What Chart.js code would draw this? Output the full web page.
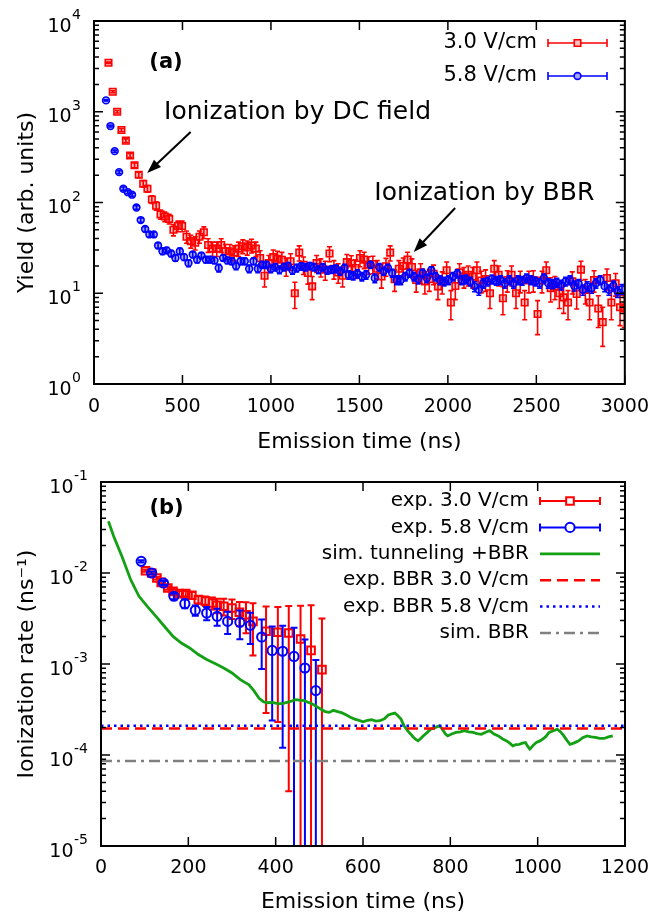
<!DOCTYPE html>
<html>
<head>
<meta charset="utf-8">
<script src="https://cdn.jsdelivr.net/npm/chart.js@4.4.0/dist/chart.umd.min.js"></script>
<style>
  body { margin: 0; background: #fff; }
  #wrap { position: relative; width: 661px; height: 915px; }
  canvas { position: absolute; left: 0; }
</style>
</head>
<body>
<div id="wrap">
  <canvas id="chartA" width="661" height="458" style="top:0"></canvas>
  <canvas id="chartB" width="661" height="458" style="top:457px"></canvas>
</div>
<script>
// ---- Panel (a): yield vs emission time ----
const redTimesA = [82,106,131,155,180,204,229,253,278,302,327,351,376,400,425,449,474,498,523,547,
  572,596,621,645,670,694,719,743,768,792,817,841,866,890,915,939,964,988,1013,1037,
  1062,1086,1111,1135,1160,1184,1209,1233,1258,1282,1307,1331,1356,1380,1405,1429,1454,1478,1503,1527,
  1552,1576,1601,1625,1650,1674,1699,1723,1748,1772,1797,1821,1846,1870,1895,1919,1944,1968,1993,2017,
  2042,2066,2091,2115,2140,2164,2189,2213,2238,2262,2287,2311,2336,2360,2385,2409,2434,2458,2483,2507,
  2532,2556,2581,2605,2630,2654,2679,2703,2728,2752,2777,2801,2826,2850,2875,2899,2924,2948,2973,2997];
const redYieldA = [3470,1660,1000,630,480,330,257,202,161,142,108,
  92,74,70,66,50,55,55,42,37.5,36,
  42,47,34,31,31,34,29,29,28,31,
  33,32,33.6,31,24.5,15.6,21.5,25,24,23.4,
  19.8,22.5,10,28,20.6,16.7,11.9,21.5,19.5,18.2,
  27.4,18.6,17,15.6,22,21.3,19,24.5,23.5,20.7,
  21,18.6,15.3,19.8,28,14.3,18.6,20,23.5,19.5,
  14,17,13.5,14.3,16.4,11.9,13.5,17.9,7.9,12,
  17,15.3,16,15.3,17.9,13.8,14.3,10,18.6,16,
  8.8,14,16,10,13.8,7.9,13.8,14,5.9,13.8,
  17.9,11.4,11.9,10,9,7.9,13.5,9.8,18.2,10.9,
  7.9,14,6.8,4.8,14.7,7.9,12.9,7,6.8];
const redErrA = [59,41,32,25,22,18,16,14,13,12,10.4,
  9.6,8.6,8.4,8.1,7.1,7.4,7.4,6.5,6.1,6,
  6.5,6.9,5.8,5.6,5.6,5.8,5.4,5.4,5.3,5.6,
  5.7,5.7,5.8,5.6,4.9,3.9,4.6,5,4.9,4.8,
  4.4,4.7,3.2,5.3,4.5,4.1,3.4,4.6,4.4,4.3,
  5.2,4.3,4.1,3.9,4.7,4.6,4.4,4.9,4.8,4.5,
  4.6,4.3,3.9,4.4,5.3,3.8,4.3,4.5,4.8,4.4,
  3.7,4.1,3.7,3.8,4,3.4,3.7,4.2,2.8,3.5,
  4.1,3.9,4,3.9,4.2,3.7,3.8,3.2,4.3,4,
  3,3.7,4,3.2,3.7,2.8,3.7,3.7,2.4,3.7,
  4.2,3.4,3.4,3.2,3,2.8,3.7,3.1,4.3,3.3,
  2.8,3.7,2.6,2.2,3.8,2.8,3.6,2.6,2.6];

const blueTimesA = [68,93,117,142,166,191,215,240,264,289,313,338,362,387,411,436,460,485,509,534,
  558,583,607,632,656,681,705,730,754,779,803,828,852,877,901,926,950,975,999,1024,
  1048,1073,1097,1122,1146,1171,1195,1220,1244,1269,1293,1318,1342,1367,1391,1416,1440,1465,1489,1514,
  1538,1563,1587,1612,1636,1661,1685,1710,1734,1759,1783,1808,1832,1857,1881,1906,1930,1955,1979,2004,
  2028,2053,2077,2102,2126,2151,2175,2200,2224,2249,2273,2298,2322,2347,2371,2396,2420,2445,2469,2494,
  2518,2543,2567,2592,2616,2641,2665,2690,2714,2739,2763,2788,2812,2837,2861,2886,2910,2935,2959,2984];
const blueYieldA = [1334,695,368,216,142,130,122,88,64,51,
  44.5,44.5,33.6,29,29.7,27.4,24.5,29,25,21.5,
  26.7,23.5,26,23.5,23.5,23,19,24.5,23,22.5,
  20,22.5,22.5,18.6,22.5,18.6,20.6,20.6,18.6,19.4,
  18.2,19.4,20,17.9,19,19.8,19.4,20,19.4,18.2,
  19.4,17.9,18.2,18.6,17.5,19,16,15.6,16.4,15.3,
  16,20.6,14.7,19.4,17.5,19,16.7,14,14,15.3,
  16.7,15.3,14.3,16.7,14.7,17.9,15.3,14,13.5,14,
  15.3,16.4,14,14.3,13.5,11.9,10.9,12.9,13.5,14.3,
  13.8,14,12.9,14,12.9,14,13.8,14.7,14,13.5,
  12.9,14.7,12.9,12.7,13.1,12.4,13.5,14,12.1,12.7,
  10.9,11.9,11.4,12.9,14,11.9,10.9,12.1,10.4,11.1];
const blueErrA = [22,15,10,8,6,5,5,4,3.5,3,
  2.8,2.8,2.4,2.2,2.2,2.1,2,2.2,2,1.9,
  2,1.9,2,1.9,1.9,1.9,1.8,1.9,1.9,1.9,
  1.8,1.9,1.9,1.8,1.9,1.8,1.8,1.8,1.8,1.8,
  1.8,1.8,1.8,1.7,1.8,1.8,1.8,1.8,1.8,1.8,
  1.8,1.7,1.7,1.8,1.7,1.8,1.7,1.6,1.7,1.6,
  1.7,1.8,1.6,1.8,1.7,1.8,1.7,1.6,1.6,1.6,
  1.7,1.6,1.6,1.7,1.6,1.7,1.6,1.6,1.5,1.6,
  1.6,1.7,1.6,1.6,1.5,1.5,1.4,1.5,1.5,1.6,
  1.5,1.6,1.5,1.6,1.5,1.6,1.5,1.6,1.6,1.5,
  1.5,1.6,1.5,1.5,1.5,1.5,1.5,1.6,1.5,1.5,
  1.4,1.5,1.4,1.5,1.6,1.5,1.4,1.5,1.4,1.4];

// ---- Panel (b): ionization rate vs emission time ----
const redTimesB = [102,116,128,138,153,165,179,194,208,223,239,255,266,281,300,317,332,348,378,405,430,457,481,506];
const redRateB = [0.0106,0.0100,0.00881,0.00789,0.00684,0.00629,0.00593,0.00593,0.00569,0.00510,0.00493,0.00468,
  0.00441,0.00431,0.00412,0.00370,0.00348,0.00294,0.00229,0.00223,0.00219,0.00188,0.00141,0.000867];
const redErrB = [0.0003,0.0003,0.0003,0.0003,0.0003,0.0004,0.0004,0.0004,0.0005,0.0005,0.0006,0.0007,
  0.0008,0.0009,0.0010,0.0011,0.0013,0.0017,0.0020,0.0020,0.00215,0.0025,0.0030,0.0023];

const blueTimesB = [92,116,143,167,192,216,242,266,290,318,342,368,392,416,442,467,492];
const blueRateB = [0.01343,0.0100,0.00776,0.00555,0.00460,0.00389,0.00363,0.00334,0.00294,0.00287,0.00266,
  0.00198,0.00141,0.00138,0.00121,0.000904,0.00051];
const blueErrB = [0.0004,0.0004,0.0004,0.0004,0.0005,0.0005,0.0006,0.0007,0.0008,0.0010,0.0010,
  0.0011,0.00117,0.00126,0.0013,0.00095,0.0006];

const simTimes = [17,29,48,68,87,106,126,145,165,184,203,223,242,261,281,300,319,339,350,362,372,380,392,407,417,426,436,445,455,465,
  474,484,494,503,513,523,532,542,552,562,571,581,591,600,610,620,629,639,649,658,666,673,680,687,694,702,709,716,721,726,
  731,736,746,755,765,774,779,784,789,794,803,813,823,832,842,852,861,871,881,890,900,910,920,929,936,943,950,958,965,972,
  977,982,990,997,1004,1011,1019,1026,1036,1045,1053,1060,1067,1074,1084,1094,1103,1113,1123,1132,1142,1152,1162,1172];
const simRate = [0.037,0.0253,0.0152,0.00845,0.00555,0.0043,0.00334,0.0026,0.00201,0.0017,0.0015,0.00127,0.00112,0.00101,0.000904,
  0.000796,0.000673,0.00059,0.00051,0.00042,0.000385,0.000375,0.000379,0.000364,0.00037,0.000379,0.00039,0.000406,0.0004,0.000396,
  0.00038,0.000364,0.00034,0.00032,0.0003,0.000294,0.00031,0.0003,0.00029,0.000275,0.00026,0.000248,0.00024,0.000232,0.00024,
  0.000244,0.000236,0.000238,0.00025,0.000275,0.000283,0.000289,0.00027,0.000248,0.00021,0.000185,0.00017,0.000156,0.000148,0.000143,
  0.00015,0.000159,0.000175,0.000192,0.0002,0.000209,0.0002,0.000185,0.00017,0.000162,0.00017,0.000177,0.00018,0.000185,0.00018,
  0.000177,0.000172,0.000169,0.000178,0.000185,0.00017,0.000162,0.00015,0.000143,0.000135,0.000126,0.00013,0.000131,0.000135,0.000137,
  0.000125,0.000116,0.000128,0.000137,0.000142,0.000149,0.00016,0.000177,0.000185,0.000192,0.000178,0.000162,0.000145,0.000131,0.000136,
  0.000143,0.000155,0.000162,0.000158,0.000156,0.000152,0.000152,0.000158,0.000162];

const bbrExp30 = 1.96e-4;
const bbrExp58 = 2.09e-4;
const bbrSim = 8.6e-5;
const rangeB = [0, 1200];

Chart.defaults.font.family = '"DejaVu Sans", Verdana, sans-serif';
Chart.defaults.color = '#000';

const toPoints = (xs, ys) => xs.map((x, i) => ({ x: x, y: ys[i] }));
const plainTick = v => String(v);

// Error bars, drawn just before the points of their dataset
const errorBars = {
  id: 'errorBars',
  beforeDatasetDraw(chart, args) {
    const ds = chart.data.datasets[args.index];
    if (!ds.errors) return;
    const { ctx, chartArea: a, scales: { x, y } } = chart;
    const cap = ds.capHalf || 3;
    ctx.save();
    ctx.beginPath();
    ctx.rect(a.left, a.top, a.width, a.height);
    ctx.clip();
    ctx.strokeStyle = ds.borderColor;
    ctx.lineWidth = ds.errWidth || 1.5;
    ds.data.forEach((p, i) => {
      const e = ds.errors[i];
      const px = x.getPixelForValue(p.x);
      const top = y.getPixelForValue(p.y + e);
      const lo = p.y - e;
      const bot = lo > 0 ? y.getPixelForValue(lo) : a.bottom + 5;
      ctx.beginPath();
      ctx.moveTo(px, top); ctx.lineTo(px, bot);
      ctx.moveTo(px - cap, top); ctx.lineTo(px + cap, top);
      if (lo > 0) { ctx.moveTo(px - cap, bot); ctx.lineTo(px + cap, bot); }
      ctx.stroke();
    });
    ctx.restore();
  }
};

// gnuplot-like frame: full border, inward mirrored ticks, 10^n labels
const frame = {
  id: 'frame',
  afterDatasetsDraw(chart, args, opts) {
    const { ctx, chartArea: a, scales: { x, y } } = chart;
    ctx.save();
    ctx.strokeStyle = '#000';
    ctx.lineWidth = 1.5;
    ctx.beginPath();
    x.ticks.forEach(t => {
      const px = x.getPixelForValue(t.value);
      ctx.moveTo(px, a.bottom); ctx.lineTo(px, a.bottom - 9);
      ctx.moveTo(px, a.top); ctx.lineTo(px, a.top + 9);
    });
    for (let e = opts.minExp; e <= opts.maxExp; e++) {
      for (let m = 1; m < 10; m++) {
        if (e === opts.maxExp && m > 1) break;
        const py = y.getPixelForValue(m * Math.pow(10, e));
        const len = m === 1 ? 9 : 5;
        ctx.moveTo(a.left, py); ctx.lineTo(a.left + len, py);
        ctx.moveTo(a.right, py); ctx.lineTo(a.right - len, py);
      }
    }
    ctx.stroke();
    ctx.lineWidth = 2;
    ctx.strokeRect(a.left, a.top, a.right - a.left, a.bottom - a.top);

    ctx.fillStyle = '#000';
    ctx.textAlign = 'right';
    ctx.textBaseline = 'alphabetic';
    for (let e = opts.minExp; e <= opts.maxExp; e++) {
      const py = y.getPixelForValue(Math.pow(10, e));
      const exp = String(e);
      ctx.font = '14px "DejaVu Sans"';
      const ew = ctx.measureText(exp).width;
      ctx.fillText(exp, a.left - 13, py - 2);
      ctx.font = '19px "DejaVu Sans"';
      ctx.fillText('10', a.left - 13 - ew - 0.5, py + 10.5);
    }
    ctx.restore();
  }
};

// gnuplot-like key: right-aligned text and a sample to its right
const gpLegend = {
  id: 'gpLegend',
  afterDraw(chart, args, opts) {
    const { ctx } = chart;
    ctx.save();
    chart.data.datasets.forEach((ds, i) => {
      const yy = opts.rowTop + i * opts.rowStep;
      const cx = (opts.sampleLeft + opts.sampleRight) / 2;
      ctx.font = opts.font;
      ctx.fillStyle = '#000';
      ctx.textAlign = 'right';
      ctx.textBaseline = 'middle';
      ctx.fillText(ds.label, opts.textRight, yy);
      ctx.strokeStyle = ds.borderColor;
      ctx.lineWidth = ds.showLine ? ds.borderWidth : (ds.errWidth || 1.5);
      ctx.setLineDash(ds.borderDash || []);
      ctx.beginPath();
      ctx.moveTo(opts.sampleLeft, yy); ctx.lineTo(opts.sampleRight, yy);
      ctx.stroke();
      ctx.setLineDash([]);
      if (ds.errors) {
        ctx.beginPath();
        ctx.moveTo(opts.sampleLeft, yy - 4); ctx.lineTo(opts.sampleLeft, yy + 4);
        ctx.moveTo(opts.sampleRight, yy - 4); ctx.lineTo(opts.sampleRight, yy + 4);
        ctx.stroke();
        ctx.lineWidth = ds.pointBorderWidth;
        ctx.beginPath();
        if (ds.pointStyle === 'rect') {
          const s = Math.SQRT1_2 * ds.pointRadius;
          ctx.rect(cx - s, yy - s, 2 * s, 2 * s);
        } else {
          ctx.arc(cx, yy, ds.pointRadius, 0, Math.PI * 2);
        }
        ctx.fillStyle = '#fff';
        ctx.fill();
        ctx.fillStyle = ds.pointBackgroundColor;
        ctx.fill();
        ctx.stroke();
      }
    });
    ctx.restore();
  }
};

// text labels and arrows placed in data coordinates
const notes = {
  id: 'notes',
  afterDraw(chart, args, opts) {
    const { ctx, scales: { x, y } } = chart;
    ctx.save();
    ctx.fillStyle = '#000';
    (opts.texts || []).forEach(t => {
      ctx.font = t.font;
      ctx.textAlign = t.align;
      ctx.textBaseline = 'middle';
      ctx.fillText(t.text, x.getPixelForValue(t.x), y.getPixelForValue(t.y));
    });
    (opts.arrows || []).forEach(ar => {
      const x0 = x.getPixelForValue(ar.x0), y0 = y.getPixelForValue(ar.y0);
      const x1 = x.getPixelForValue(ar.x1), y1 = y.getPixelForValue(ar.y1);
      const ang = Math.atan2(y1 - y0, x1 - x0);
      const hl = 15, hw = 0.35;
      ctx.strokeStyle = '#000';
      ctx.lineWidth = 2;
      ctx.beginPath();
      ctx.moveTo(x0, y0);
      ctx.lineTo(x1 - Math.cos(ang) * hl * 0.8, y1 - Math.sin(ang) * hl * 0.8);
      ctx.stroke();
      ctx.beginPath();
      ctx.moveTo(x1, y1);
      ctx.lineTo(x1 - hl * Math.cos(ang - hw), y1 - hl * Math.sin(ang - hw));
      ctx.lineTo(x1 - hl * Math.cos(ang + hw), y1 - hl * Math.sin(ang + hw));
      ctx.closePath();
      ctx.fill();
    });
    ctx.restore();
  }
};

// Panel (a)
new Chart(document.getElementById('chartA'), {
  type: 'scatter',
  data: {
    datasets: [
      {
        label: '3.0 V/cm',
        data: toPoints(redTimesA, redYieldA),
        errors: redErrA,
        capHalf: 2.5,
        errWidth: 1.6,
        borderColor: '#ff0000',
        pointStyle: 'rect',
        pointRadius: 4.6,
        pointBorderWidth: 1.6,
        pointBackgroundColor: 'rgba(255,0,0,0.25)',
        order: 1
      },
      {
        label: '5.8 V/cm',
        data: toPoints(blueTimesA, blueYieldA),
        errors: blueErrA,
        capHalf: 2.5,
        errWidth: 1.6,
        borderColor: '#0000ff',
        pointStyle: 'circle',
        pointRadius: 3.4,
        pointBorderWidth: 1.6,
        pointBackgroundColor: 'rgba(0,0,255,0.35)',
        order: 0
      }
    ]
  },
  options: {
    responsive: false,
    animation: false,
    devicePixelRatio: 1,
    layout: { padding: { left: 0, right: 29, top: 21, bottom: 0 } },
    plugins: {
      legend: { display: false },
      tooltip: { enabled: false },
      frame: { minExp: 0, maxExp: 4 },
      gpLegend: { rowTop: 43, rowStep: 33, textRight: 537, sampleLeft: 548, sampleRight: 607, font: '21px "DejaVu Sans"' },
      notes: {
        texts: [
          { text: '(a)', x: 407, y: 3450, font: 'bold 21px "DejaVu Sans"', align: 'center' },
          { text: 'Ionization by DC field', x: 396, y: 969, font: '25px "DejaVu Sans"', align: 'left' },
          { text: 'Ionization by BBR', x: 1584, y: 127, font: '25px "DejaVu Sans"', align: 'left' }
        ],
        arrows: [
          { x0: 546, y0: 598, x1: 301, y1: 211 },
          { x0: 2041, y0: 87, x1: 1807, y1: 28.5 }
        ]
      }
    },
    scales: {
      x: {
        type: 'linear', min: 0, max: 3000,
        ticks: { stepSize: 500, maxRotation: 0, padding: 12, font: { size: 19 }, callback: plainTick },
        grid: { display: false, drawTicks: false },
        border: { display: false },
        title: { display: true, text: 'Emission time (ns)', font: { size: 22, lineHeight: 1 }, padding: { top: 0, bottom: 5 } },
        afterFit(scale) { scale.height = 74; }
      },
      y: {
        type: 'logarithmic', min: 1, max: 10000,
        ticks: { display: false },
        grid: { display: false, drawTicks: false },
        border: { display: false },
        title: { display: true, text: 'Yield (arb. units)', font: { size: 22, lineHeight: 1 }, padding: { top: 16, bottom: 0 } },
        afterFit(scale) { scale.width = 94; }
      }
    }
  },
  plugins: [errorBars, frame, gpLegend, notes]
});

// Panel (b)
const hLine = v => rangeB.map(t => ({ x: t, y: v }));
new Chart(document.getElementById('chartB'), {
  type: 'scatter',
  data: {
    datasets: [
      {
        label: 'exp. 3.0 V/cm',
        data: toPoints(redTimesB, redRateB),
        errors: redErrB,
        capHalf: 3.5,
        errWidth: 2,
        borderColor: '#ff0000',
        pointStyle: 'rect',
        pointRadius: 5.4,
        pointBorderWidth: 2,
        pointBackgroundColor: 'rgba(255,255,255,0)',
        order: 6
      },
      {
        label: 'exp. 5.8 V/cm',
        data: toPoints(blueTimesB, blueRateB),
        errors: blueErrB,
        capHalf: 3.5,
        errWidth: 2,
        borderColor: '#0000ff',
        pointStyle: 'circle',
        pointRadius: 4.6,
        pointBorderWidth: 2,
        pointBackgroundColor: 'rgba(255,255,255,0)',
        order: 5
      },
      {
        label: 'sim. tunneling +BBR',
        data: toPoints(simTimes, simRate),
        showLine: true,
        borderColor: '#14a014',
        borderWidth: 2.8,
        pointRadius: 0,
        order: 4
      },
      {
        label: 'exp. BBR 3.0 V/cm',
        data: hLine(bbrExp30),
        showLine: true,
        borderColor: '#ff0000',
        borderWidth: 2.5,
        borderDash: [11, 6],
        pointRadius: 0,
        order: 3
      },
      {
        label: 'exp. BBR 5.8 V/cm',
        data: hLine(bbrExp58),
        showLine: true,
        borderColor: '#0000ff',
        borderWidth: 2.5,
        borderDash: [2.5, 4],
        pointRadius: 0,
        order: 2
      },
      {
        label: 'sim. BBR',
        data: hLine(bbrSim),
        showLine: true,
        borderColor: '#808080',
        borderWidth: 2.5,
        borderDash: [11, 5, 3, 5],
        pointRadius: 0,
        order: 1
      }
    ]
  },
  options: {
    responsive: false,
    animation: false,
    devicePixelRatio: 1,
    layout: { padding: { left: 0, right: 36, top: 25, bottom: 0 } },
    plugins: {
      legend: { display: false },
      tooltip: { enabled: false },
      frame: { minExp: -5, maxExp: -1 },
      gpLegend: { rowTop: 44, rowStep: 26.4, textRight: 529, sampleLeft: 540, sampleRight: 600, font: '20px "DejaVu Sans"' },
      notes: {
        texts: [
          { text: '(b)', x: 150, y: 0.051, font: 'bold 21px "DejaVu Sans"', align: 'center' }
        ]
      }
    },
    scales: {
      x: {
        type: 'linear', min: 0, max: 1200,
        ticks: { stepSize: 200, maxRotation: 0, padding: 11, font: { size: 19 }, callback: plainTick },
        grid: { display: false, drawTicks: false },
        border: { display: false },
        title: { display: true, text: 'Emission time (ns)', font: { size: 22, lineHeight: 1 }, padding: { top: 0, bottom: 2 } },
        afterFit(scale) { scale.height = 69; }
      },
      y: {
        type: 'logarithmic', min: 1e-5, max: 0.1,
        ticks: { display: false },
        grid: { display: false, drawTicks: false },
        border: { display: false },
        title: { display: true, text: 'Ionization rate (ns\u207B\u00B9)', font: { size: 22, lineHeight: 1 }, padding: { top: 16, bottom: 0 } },
        afterFit(scale) { scale.width = 101; }
      }
    }
  },
  plugins: [errorBars, frame, gpLegend, notes]
});
</script>
</body>
</html>
